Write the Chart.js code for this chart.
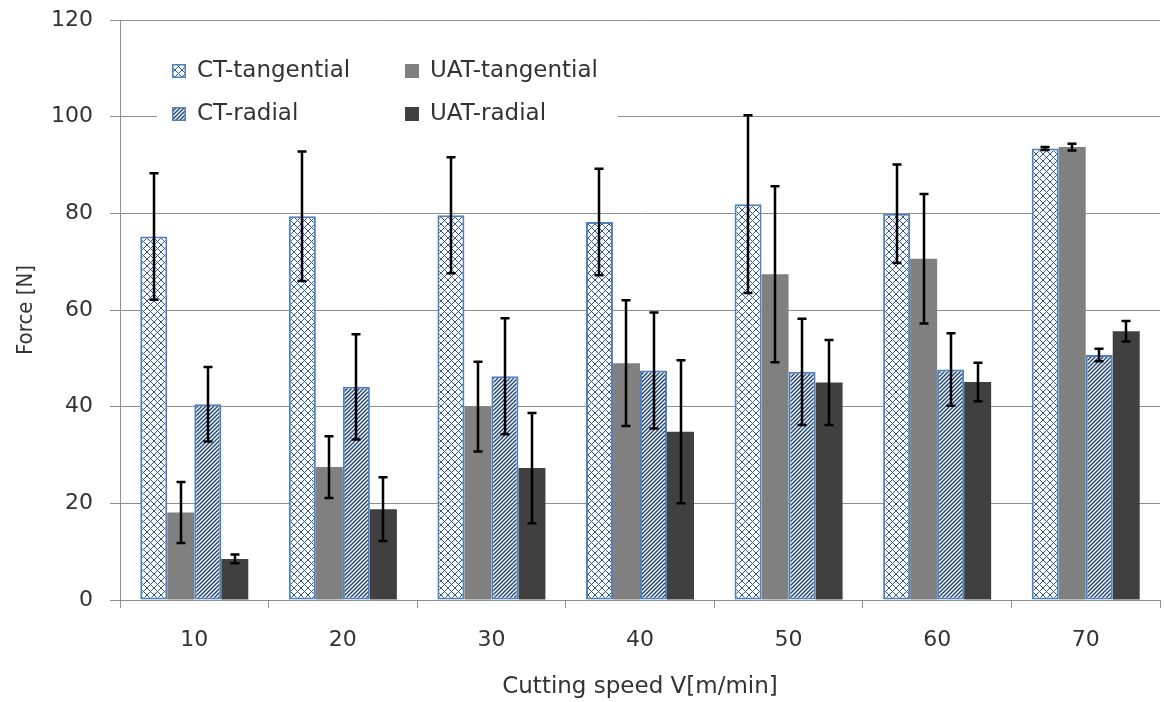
<!DOCTYPE html>
<html>
<head>
<meta charset="utf-8">
<script src="https://cdn.jsdelivr.net/npm/chart.js@4.4.1/dist/chart.umd.min.js"></script>
<style>
  html, body { margin: 0; padding: 0; background: #ffffff; }
  #wrap { width: 1165px; height: 702px; }
</style>
</head>
<body>
<div id="wrap"><canvas id="c" width="1165" height="702"></canvas></div>
<script>
// ---- data ----
const categories = ['10', '20', '30', '40', '50', '60', '70'];
const seriesNames = ['CT-tangential', 'UAT-tangential', 'CT-radial', 'UAT-radial'];
const ctTang     = [75.2, 79.4, 79.6, 78.2, 81.9, 79.9, 93.4];
const ctTangErr  = [13.1, 13.4, 12.0, 11.0, 18.4, 10.2, 0.3];
const uatTang    = [18.1, 27.5, 40.0, 49.0, 67.4, 70.6, 93.7];
const uatTangErr = [6.3, 6.4, 9.3, 13.0, 18.2, 13.4, 0.7];
const ctRad      = [40.5, 44.1, 46.3, 47.5, 47.2, 47.7, 50.7];
const ctRadErr   = [7.7, 10.9, 12.0, 12.0, 11.0, 7.5, 1.3];
const uatRad     = [8.5, 18.8, 27.3, 34.8, 45.0, 45.1, 55.6];
const uatRadErr  = [0.9, 6.6, 11.4, 14.8, 8.8, 4.0, 2.1];
const yTicks = [0, 20, 40, 60, 80, 100, 120];

// ---- patterns ----
function makeCrossHatch() {
  const s = 7;
  const c = document.createElement('canvas');
  c.width = s; c.height = s;
  const g = c.getContext('2d');
  g.fillStyle = '#ffffff'; g.fillRect(0, 0, s, s);
  g.strokeStyle = '#2c5594'; g.lineWidth = 1;
  g.beginPath();
  g.moveTo(0, 0); g.lineTo(s, s);
  g.moveTo(0, s); g.lineTo(s, 0);
  g.stroke();
  return g.createPattern(c, 'repeat');
}
function makeStripes() {
  const s = 4;
  const c = document.createElement('canvas');
  c.width = s; c.height = s;
  const g = c.getContext('2d');
  g.fillStyle = '#ffffff'; g.fillRect(0, 0, s, s);
  g.strokeStyle = '#23467e'; g.lineWidth = 1.5;
  g.beginPath();
  g.moveTo(0, s); g.lineTo(s, 0);
  g.moveTo(-1, 1); g.lineTo(1, -1);
  g.moveTo(s - 1, s + 1); g.lineTo(s + 1, s - 1);
  g.stroke();
  return g.createPattern(c, 'repeat');
}
const crossPat = makeCrossHatch();
const stripePat = makeStripes();
const blueBorder = '#4f81bd';

const errors = [ctTangErr, uatTangErr, ctRadErr, uatRadErr];

const errorBarPlugin = {
  id: 'errorBars',
  afterDatasetsDraw(chart) {
    const ctx = chart.ctx;
    const y = chart.scales.y;
    ctx.save();
    ctx.strokeStyle = '#000000';
    ctx.lineWidth = 2.5;
    chart.data.datasets.forEach((ds, i) => {
      const meta = chart.getDatasetMeta(i);
      meta.data.forEach((bar, j) => {
        const v = ds.data[j], e = errors[i][j];
        const x = Math.round(bar.x);
        const yt = y.getPixelForValue(v + e);
        const yb = y.getPixelForValue(v - e);
        ctx.beginPath();
        ctx.moveTo(x, yt); ctx.lineTo(x, yb);
        ctx.moveTo(x - 4.5, yt); ctx.lineTo(x + 4.5, yt);
        ctx.moveTo(x - 4.5, yb); ctx.lineTo(x + 4.5, yb);
        ctx.stroke();
      });
    });
    ctx.restore();
  }
};

const legendPlugin = {
  id: 'insideLegend',
  afterDraw(chart) {
    const ctx = chart.ctx;
    ctx.save();
    ctx.fillStyle = '#ffffff';
    ctx.fillRect(157, 42, 461, 92);
    const items = [
      { x: 172, y: 71, i: 0 },
      { x: 405, y: 71, i: 1 },
      { x: 172, y: 114, i: 2 },
      { x: 405, y: 114, i: 3 }
    ];
    ctx.font = '23px "DejaVu Sans"';
    ctx.textBaseline = 'middle';
    items.forEach(it => {
      const ds = chart.data.datasets[it.i];
      const bx = it.x, by = it.y - 7, bs = 14;
      ctx.fillStyle = ds.backgroundColor;
      ctx.fillRect(bx, by, bs, bs);
      if (ds.borderWidth > 0) {
        ctx.strokeStyle = ds.borderColor;
        ctx.lineWidth = 1.5;
        ctx.strokeRect(bx + 0.75, by + 0.75, bs - 1.5, bs - 1.5);
      }
      ctx.fillStyle = '#333333';
      ctx.fillText(ds.label, bx + 25, it.y);
    });
    ctx.restore();
  }
};

const chart = new Chart(document.getElementById('c'), {
  type: 'bar',
  data: {
    labels: categories,
    datasets: [
      { label: seriesNames[0], data: ctTang, backgroundColor: crossPat, borderColor: blueBorder, borderWidth: 2, borderSkipped: false },
      { label: seriesNames[1], data: uatTang, backgroundColor: '#808080', borderWidth: 0 },
      { label: seriesNames[2], data: ctRad, backgroundColor: stripePat, borderColor: blueBorder, borderWidth: 2, borderSkipped: false },
      { label: seriesNames[3], data: uatRad, backgroundColor: '#404040', borderWidth: 0 }
    ]
  },
  options: {
    responsive: false,
    animation: false,
    devicePixelRatio: 1,
    layout: { padding: { top: 20, right: 5, bottom: 0, left: 0 } },
    datasets: { bar: { categoryPercentage: 0.727, barPercentage: 1.0 } },
    plugins: {
      legend: { display: false },
      tooltip: { enabled: false }
    },
    scales: {
      x: {
        offset: true,
        grid: { offset: true, drawOnChartArea: false, drawTicks: true, tickLength: 8, color: '#8e8e8e' },
        border: { color: '#8e8e8e', width: 1 },
        ticks: { color: '#333333', font: { family: 'DejaVu Sans', size: 22 }, padding: 19 },
        title: { display: true, text: 'Cutting speed V[m/min]', color: '#333333', font: { family: 'DejaVu Sans', size: 23 }, padding: { top: 0, bottom: 1 } },
        afterFit(scale) { scale.height = 102; }
      },
      y: {
        min: 0, max: 120,
        afterBuildTicks(scale) { scale.ticks = yTicks.map(v => ({ value: v })); },
        grid: { color: '#8e8e8e', tickLength: 10, lineWidth: 1 },
        border: { color: '#8e8e8e', width: 1 },
        ticks: { color: '#333333', font: { family: 'DejaVu Sans', size: 22 }, padding: 17 },
        title: { display: true, text: 'Force [N]', color: '#333333', font: { family: 'Liberation Sans Narrow, DejaVu Sans Condensed, sans-serif', size: 22 }, padding: { top: 13, bottom: 0 } },
        afterFit(scale) { scale.width = 120; scale.paddingTop = 0; scale.paddingBottom = 0; }
      }
    }
  },
  plugins: [errorBarPlugin, legendPlugin]
});
</script>
</body>
</html>
